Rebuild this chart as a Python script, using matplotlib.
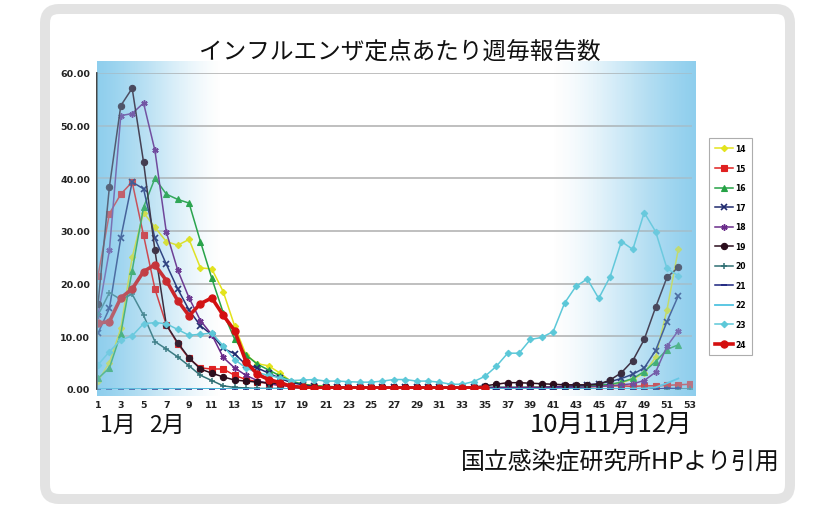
import numpy as np
import matplotlib
matplotlib.use("Agg")
import matplotlib.pyplot as plt
from matplotlib.patches import FancyBboxPatch
from matplotlib.transforms import IdentityTransform

nan = np.nan
weeks = list(range(1, 54))
xtick_weeks = list(range(1, 54, 2))
ytick_vals = [0, 10, 20, 30, 40, 50, 60]

s14 = [1.5, 5.0, 11.5, 25.0, 33.5, 30.7, 28.0, 27.3, 28.4, 23.0, 22.8, 18.5, 12.0, 6.5, 4.8, 4.4, 3.0, 1.4, 0.9, 0.7,
       0.5, 0.4, 0.3, 0.3, 0.3, 0.2, 0.2, 0.2, 0.2, 0.2, 0.2, 0.2, 0.2, 0.2, 0.2, 0.2, 0.2, 0.2, 0.2, 0.3,
       0.3, 0.3, 0.3, 0.4, 0.5, 0.8, 1.2, 1.9, 3.0, 6.0, 15.0, 26.6, nan]
s15 = [21.5, 33.3, 37.0, 39.3, 29.2, 19.0, 12.2, 8.6, 5.8, 4.0, 3.8, 3.8, 2.6, 1.8, 1.4, 1.0, 0.7, 0.5, 0.4, 0.3,
       0.3, 0.2, 0.2, 0.2, 0.2, 0.2, 0.2, 0.2, 0.2, 0.2, 0.2, 0.2, 0.2, 0.2, 0.2, 0.2, 0.2, 0.2, 0.3, 0.3,
       0.4, 0.5, 0.6, 0.6, 0.6, 0.6, 0.6, 0.5, 0.6, 0.6, 0.7, 0.8, 0.9]
s16 = [2.0, 4.0, 10.5, 22.5, 34.5, 40.0, 37.0, 36.0, 35.3, 28.0, 21.0, 14.5, 9.5, 6.5, 4.7, 3.6, 2.5, 1.5, 0.9, 0.6,
       0.5, 0.4, 0.3, 0.3, 0.3, 0.3, 0.3, 0.3, 0.3, 0.3, 0.3, 0.3, 0.3, 0.3, 0.3, 0.3, 0.3, 0.3, 0.3, 0.3,
       0.3, 0.4, 0.4, 0.5, 0.7, 0.9, 1.3, 2.0, 3.3, 5.2, 7.5, 8.4, nan]
s17 = [10.6, 15.3, 28.7, 39.3, 38.0, 28.6, 23.7, 19.0, 15.0, 12.0, 10.3, 7.7, 6.7, 4.6, 4.0, 3.0, 2.0, 1.2, 0.8, 0.5,
       0.4, 0.3, 0.3, 0.3, 0.3, 0.3, 0.3, 0.3, 0.3, 0.3, 0.3, 0.3, 0.3, 0.3, 0.3, 0.3, 0.3, 0.3, 0.3, 0.3,
       0.4, 0.5, 0.6, 0.8, 1.0, 1.4, 2.0, 2.8, 4.0, 7.3, 12.8, 17.7, nan]
s18 = [14.0, 26.3, 51.9, 52.3, 54.3, 45.3, 29.8, 22.6, 17.3, 13.0, 10.3, 6.0, 4.0, 2.6, 1.6, 1.0, 0.7, 0.5, 0.3, 0.2,
       0.2, 0.2, 0.2, 0.2, 0.2, 0.2, 0.2, 0.2, 0.2, 0.2, 0.2, 0.2, 0.2, 0.2, 0.2, 0.2, 0.2, 0.2, 0.2, 0.2,
       0.3, 0.3, 0.3, 0.4, 0.5, 0.6, 0.8, 1.0, 1.6, 3.2, 8.1, 11.1, nan]
s19 = [16.1, 38.4, 53.8, 57.1, 43.1, 26.3, 12.2, 8.8, 5.9, 3.8, 3.0, 2.3, 1.7, 1.5, 1.3, 1.2, 1.0, 0.6, 0.4, 0.3,
       0.3, 0.3, 0.3, 0.3, 0.3, 0.3, 0.3, 0.3, 0.3, 0.3, 0.3, 0.3, 0.3, 0.4, 0.6, 0.9, 1.2, 1.2, 1.1, 1.0,
       0.9, 0.8, 0.8, 0.8, 0.9, 1.7, 3.1, 5.4, 9.4, 15.5, 21.2, 23.1, nan]
s20 = [14.0, 18.3, 17.0, 18.0, 14.0, 9.0, 7.6, 6.1, 4.4, 2.6, 1.6, 0.6, 0.3, 0.2, 0.1, 0.1, 0.1, 0.0, 0.0, 0.0,
       0.0, 0.0, 0.0, 0.0, 0.0, 0.0, 0.0, 0.0, 0.0, 0.0, 0.0, 0.0, 0.0, 0.0, 0.0, 0.0, 0.0, 0.0, 0.0, 0.0,
       0.0, 0.0, 0.0, 0.0, 0.0, 0.0, 0.0, 0.0, 0.0, 0.0, 0.0, 0.0, 0.0]
s21 = [0.0, 0.0, 0.0, 0.0, 0.0, 0.0, 0.0, 0.0, 0.0, 0.0, 0.0, 0.0, 0.0, 0.0, 0.0, 0.0, 0.0, 0.0, 0.0, 0.0,
       0.0, 0.0, 0.0, 0.0, 0.0, 0.0, 0.0, 0.0, 0.0, 0.0, 0.0, 0.0, 0.0, 0.0, 0.0, 0.0, 0.0, 0.0, 0.0, 0.0,
       0.0, 0.0, 0.0, 0.0, 0.0, 0.0, 0.0, 0.0, 0.0, 0.0, 0.1, 0.1, nan]
s22 = [0.0, 0.0, 0.0, 0.0, 0.0, 0.0, 0.0, 0.0, 0.0, 0.0, 0.0, 0.0, 0.0, 0.0, 0.0, 0.0, 0.0, 0.0, 0.0, 0.0,
       0.0, 0.0, 0.0, 0.0, 0.0, 0.0, 0.0, 0.0, 0.0, 0.0, 0.0, 0.0, 0.0, 0.0, 0.0, 0.0, 0.0, 0.0, 0.0, 0.0,
       0.0, 0.0, 0.0, 0.0, 0.0, 0.0, 0.0, 0.1, 0.1, 0.3, 1.1, 2.0, nan]
s23 = [4.6, 7.1, 9.3, 10.1, 12.4, 12.6, 12.4, 11.3, 10.2, 10.4, 10.6, 8.2, 5.6, 4.0, 3.1, 2.6, 2.1, 1.6, 1.7, 1.8,
       1.5, 1.5, 1.4, 1.3, 1.3, 1.5, 1.8, 1.8, 1.5, 1.5, 1.3, 0.9, 0.9, 1.4, 2.4, 4.3, 6.8, 6.8, 9.4, 9.8,
       10.9, 16.3, 19.5, 20.9, 17.2, 21.3, 28.0, 26.5, 33.5, 29.9, 22.9, 21.5, nan]
s24 = [12.5, 12.8, 17.3, 19.0, 22.3, 23.6, 20.6, 16.8, 13.9, 16.2, 17.3, 14.0, 11.1, 5.2, 2.8, 1.8, 1.2, 0.5, 0.3, 0.2,
       0.2, 0.2, 0.2, 0.2, 0.2, 0.2, 0.2, 0.2, 0.2, 0.2, 0.2, 0.2, 0.2, 0.2, 0.2, nan, nan, nan, nan, nan,
       nan, nan, nan, nan, nan, nan, nan, nan, nan, nan, nan, nan, nan]

series_names = ["14", "15", "16", "17", "18", "19", "20", "21", "22", "23", "24"]
series_values = [s14, s15, s16, s17, s18, s19, s20, s21, s22, s23, s24]

styles = {
    "14": dict(color="#e3e31c", marker="D", ms=3.2, lw=1.1),
    "15": dict(color="#e02020", marker="s", ms=4.2, lw=1.1),
    "16": dict(color="#25a245", marker="^", ms=4.2, lw=1.1),
    "17": dict(color="#1f2a6e", marker="x", ms=4.2, lw=1.1, mew=1.2),
    "18": dict(color="#6a2c8a", marker=(6, 2, 0), ms=4.5, lw=1.1, mew=1.1),
    "19": dict(color="#2b0d1c", marker="o", ms=4.5, lw=1.1),
    "20": dict(color="#2f6f73", marker="+", ms=4.5, lw=1.1, mew=1.1),
    "21": dict(color="#1a237e", marker="_", ms=4.0, lw=1.1, mew=1.1),
    "22": dict(color="#4fc3e0", marker=None, ms=0, lw=1.3),
    "23": dict(color="#5cc8d8", marker="D", ms=3.3, lw=1.1),
    "24": dict(color="#d40f0f", marker="o", ms=5.2, lw=2.6),
}

W, H = 830, 510
fig = plt.figure(figsize=(W / 100, H / 100), dpi=100)
fig.patch.set_facecolor("white")

frame = FancyBboxPatch((45, 10), 745, 490, boxstyle="round,pad=0,rounding_size=14",
                       transform=IdentityTransform(), lw=7.2, ec="#e3e3e3", fc="white", zorder=0)
fig.add_artist(frame)

ax = fig.add_axes([97 / W, 120 / H, 595 / W, 316 / H])
ax.patch.set_alpha(0)
ax.set_zorder(2)

# gradient bands
gcol = np.array([0.56, 0.81, 0.93])
n = 256
t = np.linspace(0, 1, n)

def band(alpha_row):
    arr = np.zeros((2, len(alpha_row), 4))
    arr[..., :3] = gcol
    arr[..., 3] = alpha_row
    return arr

left_alpha = (1 - t) ** 1.5
right_alpha = t ** 1.6
ytop, ybot = 62.2, -1.3
for a, ext in [(left_alpha, (0.91, 11.9)), (right_alpha, (40.6, 53.45))]:
    ax.imshow(band(a), extent=(ext[0], ext[1], ybot, ytop), aspect="auto",
              interpolation="bilinear", zorder=0.5, clip_on=False)
    ax.imshow(band(a * 0.52), extent=(ext[0], ext[1], ybot, ytop), aspect="auto",
              interpolation="bilinear", zorder=20, clip_on=False)

for yv in ytick_vals:
    ax.axhline(yv, color="#b4b4b4", lw=1.2, zorder=1)

handles = []
for name, vals in zip(series_names, series_values):
    st = styles[name]
    h, = ax.plot(weeks, vals, color=st["color"], lw=st["lw"], marker=st["marker"],
                 ms=st["ms"], mew=st.get("mew", 0.8), mec=st["color"], mfc=st["color"],
                 label=name, zorder=5)
    handles.append(h)

ax.set_xlim(0.91, 53.2)
ax.set_ylim(0, 60)
ax.set_xticks(xtick_weeks)
ax.set_xticklabels([str(w) for w in xtick_weeks], fontsize=6.8, fontweight="bold", color="#222222")
ax.set_yticks(ytick_vals)
ax.set_yticklabels(["%.2f" % v for v in ytick_vals], fontsize=6.8, fontweight="bold", color="#222222")
ax.tick_params(axis="x", length=0, pad=8)
ax.tick_params(axis="y", length=0, pad=5)
for sp in ["top", "right", "bottom"]:
    ax.spines[sp].set_visible(False)
ax.spines["left"].set_color("#333333")
ax.spines["left"].set_linewidth(1.3)
ax.spines["left"].set_zorder(6)

leg = fig.legend(handles=handles, loc="upper left", bbox_to_anchor=(709 / W, 1 - 139 / H),
                 bbox_transform=fig.transFigure, prop=dict(weight="bold", size=5.5),
                 frameon=True, fancybox=False, edgecolor="#999999", borderpad=0.8,
                 labelspacing=1.38, handlelength=2.3, handletextpad=0.3, numpoints=1,
                 borderaxespad=0)
leg.get_frame().set_linewidth(0.8)

jp = ["Noto Sans CJK JP", "DejaVu Sans"]
fig.text(400 / W, 1 - 52 / H, "インフルエンザ定点あたり週毎報告数", family=jp, fontsize=17,
         ha="center", va="center", color="#111111")
fig.text(100 / W, 1 - 425 / H, "1月", family=jp, fontsize=16.5, ha="left", va="center", color="#111111")
fig.text(149 / W, 1 - 425 / H, "2月", family=jp, fontsize=16.5, ha="left", va="center", color="#111111")
fig.text(692 / W, 1 - 425 / H, "10月11月12月", family=jp, fontsize=18.5, ha="right", va="center",
         color="#111111")
fig.text(780 / W, 1 - 462 / H, "国立感染症研究所HPより引用", family=jp, fontsize=17.2, ha="right",
         va="center", color="#111111")

fig.savefig("out.png", dpi=100)
